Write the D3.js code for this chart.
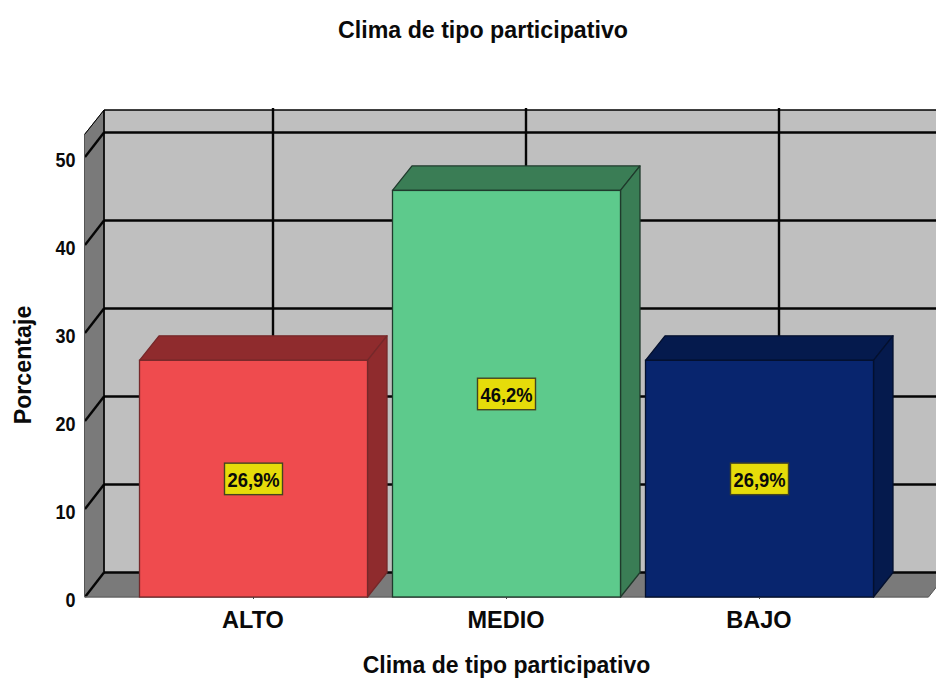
<!DOCTYPE html>
<html lang="es">
<head>
<meta charset="utf-8">
<script src="https://cdn.jsdelivr.net/npm/d3@7/dist/d3.min.js"></script>
<style>
html,body{margin:0;padding:0;background:#fff;overflow:hidden}
svg{display:block}
text{font-family:"Liberation Sans",Arial,sans-serif;fill:#0a0a0a}
</style>
</head>
<body>
<svg id="chart" width="936" height="678"></svg>
<script>
// Chart content
const chartTitle = "Clima de tipo participativo";
const xTitle = "Clima de tipo participativo";
const yTitle = "Porcentaje";
const categories = ["ALTO", "MEDIO", "BAJO"];
const percentages = [26.9, 46.2, 26.9];
const valueLabels = ["26,9%", "46,2%", "26,9%"];
const yTicks = [0, 10, 20, 30, 40, 50];
const faceColors = ["#ef4b4e", "#5dca8c", "#08256e"];
const shadeColors = ["#8f2b2d", "#3a7d55", "#051a4d"];
const edgeColors = ["#75282a", "#1f3a2c", "#04102e"];

// Oblique depth of the 3D box
const depthX = 19.5, depthY = 24.5;

const svg = d3.select("#chart");
const x = d3.scaleBand().domain(categories).range([84.5, 928.5])
  .paddingInner(0.0988).paddingOuter(0.2174);
const y = d3.scaleLinear().domain([0, 50]).range([597, 157]);
const yMax = 52.55;

const poly = (g, pts, fill, stroke, sw) => g.append("polygon")
  .attr("points", pts.map(p => p.join(",")).join(" "))
  .attr("fill", fill).attr("stroke", stroke || "none").attr("stroke-width", sw || 0)
  .attr("stroke-linejoin", "round");

const [x0, x1] = x.range();
const yTop = y(yMax), yBase = y(0);

// Walls and floor
const box = svg.append("g");
poly(box, [[x0 + depthX, yTop - depthY], [x1 + depthX, yTop - depthY], [x1 + depthX, yBase - depthY], [x0 + depthX, yBase - depthY]], "#bfbfbf");
poly(box, [[x0, yBase], [x0 + depthX, yBase - depthY], [x0 + depthX, yTop - depthY], [x0, yTop]], "#7a7a7a", "#555", 1);
poly(box, [[x0, yBase], [x1, yBase], [x1 + depthX, yBase - depthY], [x0 + depthX, yBase - depthY]], "#7a7a7a");

// Gridlines on the back wall, carried across the side wall
const grid = svg.append("g").attr("stroke", "#050505").attr("fill", "none").attr("stroke-width", 2.4);
yTicks.forEach(t => {
  grid.append("line").attr("x1", x0 + depthX).attr("x2", x1 + depthX)
    .attr("y1", y(t) - depthY).attr("y2", y(t) - depthY);
  grid.append("line").attr("x1", x0 + 0.5).attr("x2", x0 + depthX)
    .attr("y1", y(t)).attr("y2", y(t) - depthY);
});
categories.forEach(c => {
  const cx = x(c) + x.bandwidth() / 2 + depthX;
  grid.append("line").attr("x1", cx).attr("x2", cx)
    .attr("y1", yTop - depthY - 2).attr("y2", yBase - depthY);
});

// Frame lines of the box
const frame = svg.append("g").attr("stroke", "#000").attr("fill", "none");
frame.append("line").attr("x1", x0 + depthX).attr("x2", x1 + depthX)
  .attr("y1", yTop - depthY).attr("y2", yTop - depthY).attr("stroke-width", 1.6);
frame.append("line").attr("x1", x0 + depthX).attr("x2", x0 + depthX)
  .attr("y1", yTop - depthY).attr("y2", yBase - depthY).attr("stroke-width", 1.6);
frame.append("line").attr("x1", x0).attr("x2", x0 + depthX)
  .attr("y1", yTop).attr("y2", yTop - depthY).attr("stroke-width", 1);
frame.append("line").attr("x1", x0).attr("x2", x0)
  .attr("y1", yTop).attr("y2", yBase).attr("stroke", "#555").attr("stroke-width", 1);
frame.append("line").attr("x1", x0).attr("x2", x1)
  .attr("y1", yBase).attr("y2", yBase).attr("stroke", "#666").attr("stroke-width", 1.5);
frame.append("line").attr("x1", x1).attr("x2", x1 + depthX)
  .attr("y1", yBase).attr("y2", yBase - depthY).attr("stroke", "#555").attr("stroke-width", 1);

// Bars: front, top and side faces
categories.forEach((c, i) => {
  const g = svg.append("g");
  const l = x(c), r = l + x.bandwidth(), t = y(percentages[i]);
  poly(g, [[l, t], [l + depthX, t - depthY], [r + depthX, t - depthY], [r, t]], shadeColors[i], edgeColors[i], 1.3);
  poly(g, [[r, t], [r + depthX, t - depthY], [r + depthX, yBase - depthY], [r, yBase]], shadeColors[i], edgeColors[i], 1.3);
  g.append("rect").attr("x", l).attr("y", t).attr("width", x.bandwidth()).attr("height", yBase - t)
    .attr("fill", faceColors[i]).attr("stroke", edgeColors[i]).attr("stroke-width", 1.3);
  // Value tag at mid-height of the bar
  const cx = (l + r) / 2, cy = y(percentages[i] / 2);
  g.append("rect").attr("x", cx - 29).attr("y", cy - 15.5).attr("width", 58).attr("height", 31.5)
    .attr("fill", "#e6dc0a").attr("stroke", "#45451f").attr("stroke-width", 1.4);
  g.append("text").attr("x", cx).attr("y", cy + 8).attr("text-anchor", "middle")
    .attr("font-size", 21).attr("font-weight", 700).attr("textLength", 52)
    .attr("lengthAdjust", "spacingAndGlyphs").text(valueLabels[i]);
});

// Value axis labels
svg.append("g").selectAll("text").data(yTicks).join("text")
  .attr("x", 75.5).attr("y", d => y(d) + 9.5).attr("text-anchor", "end")
  .attr("font-size", 21).attr("font-weight", 700).attr("textLength", d => d === 0 ? 10 : 20)
  .attr("lengthAdjust", "spacingAndGlyphs").text(d => d);

// Category labels with their small ticks
svg.append("g").selectAll("line").data(categories).join("line")
  .attr("x1", d => x(d) + x.bandwidth() / 2).attr("x2", d => x(d) + x.bandwidth() / 2)
  .attr("y1", yBase).attr("y2", yBase + 2).attr("stroke", "#444");
svg.append("g").selectAll("text").data(categories).join("text")
  .attr("x", d => x(d) + x.bandwidth() / 2 - 0.5).attr("y", 627.5).attr("text-anchor", "middle")
  .attr("font-size", 23.5).attr("font-weight", 700).text(d => d);

// Titles
svg.append("text").attr("x", 483).attr("y", 37.5).attr("text-anchor", "middle")
  .attr("font-size", 23.2).attr("font-weight", 700).text(chartTitle);
svg.append("text").attr("x", 506.5).attr("y", 673).attr("text-anchor", "middle")
  .attr("font-size", 23).attr("font-weight", 700).text(xTitle);
svg.append("text").attr("transform", "translate(31,365) rotate(-90)").attr("text-anchor", "middle")
  .attr("font-size", 23.2).attr("font-weight", 700).text(yTitle);
</script>
</body>
</html>
